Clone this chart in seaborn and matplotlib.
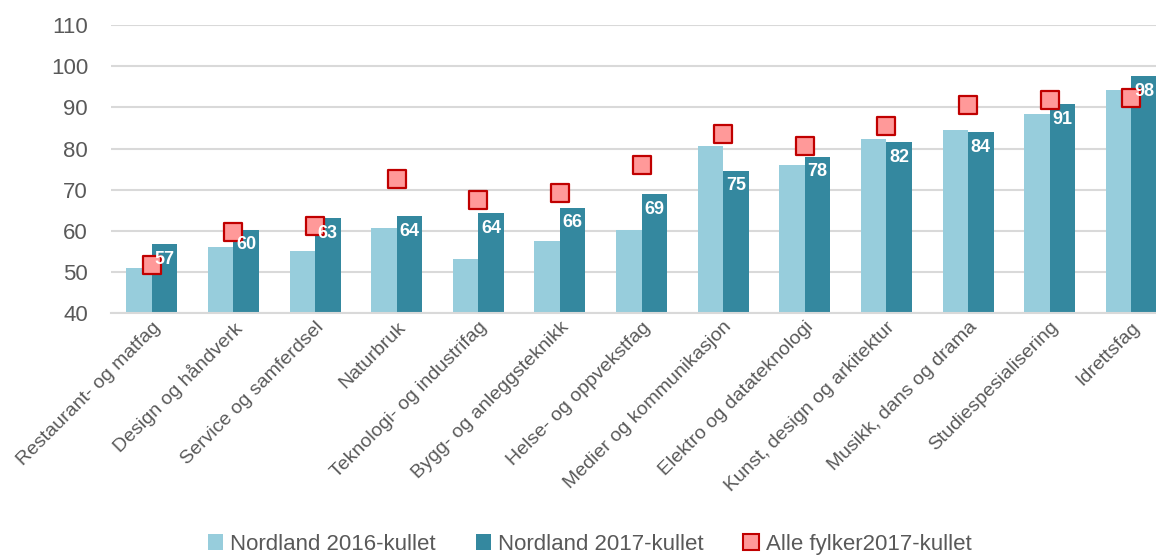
import numpy as np
import pandas as pd
import matplotlib
matplotlib.use("Agg")
import matplotlib.pyplot as plt
import seaborn as sns
from matplotlib.patches import Patch

categories = ["Restaurant- og matfag", "Design og håndverk", "Service og samferdsel",
              "Naturbruk", "Teknologi- og industrifag", "Bygg- og anleggsteknikk",
              "Helse- og oppvekstfag", "Medier og kommunikasjon", "Elektro og datateknologi",
              "Kunst, design og arkitektur", "Musikk, dans og drama",
              "Studiespesialisering", "Idrettsfag"]
nordland_2016 = [51.0, 56.1, 55.2, 60.7, 53.2, 57.6, 60.2, 80.6, 76.0, 82.4, 84.6, 88.4, 94.3]
nordland_2017 = [56.8, 60.3, 63.0, 63.6, 64.3, 65.6, 68.9, 74.6, 78.0, 81.6, 84.0, 90.8, 97.6]
alle_fylker_2017 = [51.6, 59.8, 61.1, 72.6, 67.6, 69.1, 76.1, 83.5, 80.7, 85.5, 90.6, 91.8, 92.4]
series_names = ["Nordland 2016-kullet", "Nordland 2017-kullet", "Alle fylker2017-kullet"]
yticks = [40, 50, 60, 70, 80, 90, 100, 110]

light = "#97CDDC"
dark = "#34889F"
mface = "#FF9999"
medge = "#C00000"
grid_c = "#D9D9D9"
text_c = "#595959"

sns.set_theme(style="white")
plt.rcParams['font.family'] = ['Liberation Sans', 'DejaVu Sans']

df = pd.DataFrame({
    "kategori": categories * 2,
    "verdi": nordland_2016 + nordland_2017,
    "serie": [series_names[0]] * len(categories) + [series_names[1]] * len(categories),
})

fig = plt.figure(figsize=(11.56, 5.59), dpi=100)
ax = fig.add_axes([0.096, 0.44, 0.918, 0.515])

sns.barplot(data=df, x="kategori", y="verdi", hue="serie", order=categories,
            hue_order=series_names[:2], palette=[light, dark], width=0.625,
            saturation=1, ax=ax, legend=False, zorder=2, linewidth=0)

x = np.arange(len(categories))
sns.scatterplot(x=x, y=alle_fylker_2017, marker="s", s=150, color=mface,
                edgecolor=medge, linewidth=1.6, ax=ax, zorder=4, legend=False)

for c in ax.containers[1:2]:
    ax.bar_label(c, labels=[f"{v:.0f}" for v in nordland_2017], padding=-17,
                 color="white", fontweight="bold", fontsize=13, zorder=5)

ax.set_ylim(40, 110)
ax.set_xlim(-0.5, len(categories) - 0.5)
ax.set_yticks(yticks)
ax.yaxis.grid(True, color=grid_c, linewidth=1.5, zorder=0)
ax.set_axisbelow(True)
for s in ["top", "right", "left"]:
    ax.spines[s].set_visible(False)
ax.spines["bottom"].set_color(grid_c)
ax.spines["bottom"].set_linewidth(1.5)
ax.set_xlabel("")
ax.set_ylabel("")
ax.tick_params(axis="y", labelsize=16, colors=text_c, length=0, pad=16.5)
ax.tick_params(axis="x", labelsize=14, colors=text_c, length=0, pad=4)
ax.set_xticks(x)
ax.set_xticklabels(categories, rotation=45, ha="right", rotation_mode="anchor")

handles = [Patch(facecolor=light, edgecolor="none"),
           Patch(facecolor=dark, edgecolor="none"),
           Patch(facecolor=mface, edgecolor=medge, linewidth=1.5)]
fig.legend(handles, series_names, loc="lower center", bbox_to_anchor=(0.51, -0.028),
           ncol=3, frameon=False, fontsize=16, handlelength=0.7, handleheight=0.7,
           handletextpad=0.3, columnspacing=1.8, labelcolor=text_c)

fig.savefig("out.png", dpi=100)
